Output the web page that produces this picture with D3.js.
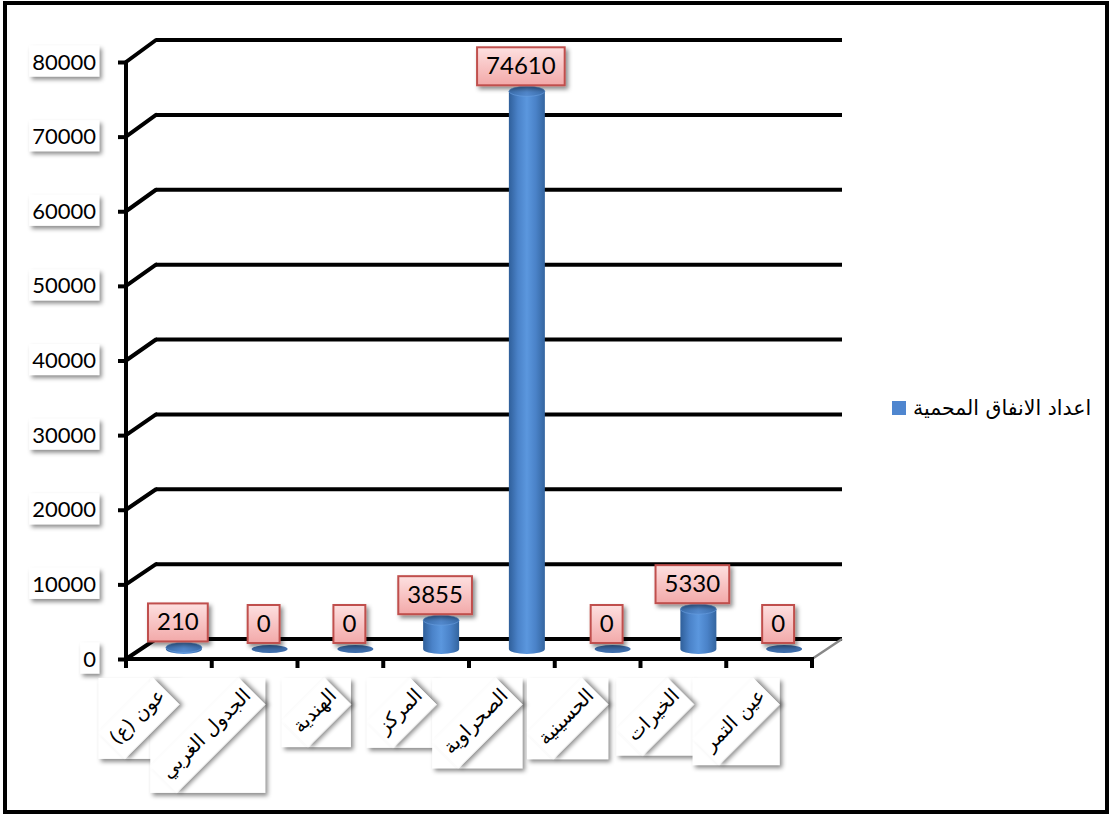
<!DOCTYPE html>
<html>
<head>
<meta charset="utf-8">
<script src="https://cdn.jsdelivr.net/npm/d3@7"></script>
<style>
  html, body { margin: 0; padding: 0; background: #fff; }
  svg { display: block; }
</style>
</head>
<body>
<svg id="chart" width="1111" height="816"></svg>
<script>
// Protected tunnels per district
const categories = ["عون (ع)", "الجدول الغربي", "الهندية", "المركز", "الصحراوية", "الحسينية", "الخيرات", "عين التمر"];
const values = [210, 0, 0, 3855, 74610, 0, 5330, 0];
const yTickValues = [0, 10000, 20000, 30000, 40000, 50000, 60000, 70000, 80000];
const seriesName = "اعداد الانفاق المحمية";

const svg = d3.select("#chart");

const numFont = "Lato, 'Open Sans', sans-serif";
const arFont = "'DejaVu Sans', 'Noto Sans', sans-serif";

// defs: shadow + gradients
const defs = svg.append("defs");
const sh = defs.append("filter").attr("id", "shadow").attr("x", "-30%").attr("y", "-30%").attr("width", "170%").attr("height", "170%");
sh.append("feDropShadow").attr("dx", 2.5).attr("dy", 3).attr("stdDeviation", 2).attr("flood-color", "#000").attr("flood-opacity", 0.45);

const bodyGrad = defs.append("linearGradient").attr("id", "cylBody").attr("x1", 0).attr("x2", 1).attr("y1", 0).attr("y2", 0);
[[0, "#2f5f9a"], [0.25, "#4a82c8"], [0.5, "#5b97de"], [0.75, "#4a82c8"], [1, "#34659f"]]
  .forEach(([o, c]) => bodyGrad.append("stop").attr("offset", o).attr("stop-color", c));
const capGrad = defs.append("linearGradient").attr("id", "cylTop").attr("x1", 0).attr("x2", 1).attr("y1", 0).attr("y2", 0);
[[0, "#3c6fae"], [0.5, "#5288cc"], [1, "#3c6fae"]]
  .forEach(([o, c]) => capGrad.append("stop").attr("offset", o).attr("stop-color", c));
const pinkGrad = defs.append("linearGradient").attr("id", "pinkBox").attr("x1", 0).attr("x2", 0).attr("y1", 0).attr("y2", 1);
[[0, "#fde0e0"], [0.5, "#f8c4c4"], [1, "#f2a9a9"]]
  .forEach(([o, c]) => pinkGrad.append("stop").attr("offset", o).attr("stop-color", c));

// outer frame
svg.append("rect").attr("x", 5).attr("y", 3).attr("width", 1102).attr("height", 809)
  .attr("fill", "none").attr("stroke", "#000").attr("stroke-width", 4);

// scales: front plane, back wall, and mid-depth for the cylinders
const x = d3.scaleBand().domain(categories).range([126, 812]).padding(0);
const depthX = 30;
const yFront = d3.scaleLinear().domain([0, 80000]).range([659, 62]);
const yBack = d3.scaleLinear().domain([0, 80000]).range([639, 40]);
const yMid = d3.scaleLinear().domain([0, 80000]).range([649, 51]);
const backRight = 842;

// back gridlines with side diagonals
const grid = svg.append("g");
yTickValues.forEach(v => {
  grid.append("line").attr("x1", 126 + depthX).attr("x2", backRight)
    .attr("y1", yBack(v)).attr("y2", yBack(v))
    .attr("stroke", "#000").attr("stroke-width", 4);
  grid.append("line").attr("x1", 126).attr("y1", yFront(v))
    .attr("x2", 126 + depthX).attr("y2", yBack(v))
    .attr("stroke", "#000").attr("stroke-width", 4).attr("stroke-linecap", "round");
});
// floor: right side edge
grid.append("line").attr("x1", 812).attr("y1", yFront(0)).attr("x2", backRight).attr("y2", yBack(0))
  .attr("stroke", "#888").attr("stroke-width", 2.5);

// y axis
const yAxis = svg.append("g").attr("transform", "translate(126,0)")
  .call(d3.axisLeft(yFront).tickValues(yTickValues).tickSize(8).tickSizeOuter(0).tickPadding(22).tickFormat(d3.format("d")));
yAxis.select(".domain").attr("stroke", "#000").attr("stroke-width", 4)
  .attr("d", `M0,${yFront(80000)}V${yFront(0) + 9}`);
yAxis.selectAll(".tick line").attr("stroke", "#000").attr("stroke-width", 4);
yAxis.selectAll(".tick text").attr("font-family", numFont).attr("font-size", 22).attr("fill", "#000");
yAxis.selectAll(".tick").each(function () {
  const t = d3.select(this).select("text");
  const bb = t.node().getBBox();
  d3.select(this).insert("rect", "text")
    .attr("x", bb.x - 3).attr("y", bb.y - 2).attr("width", bb.width + 6).attr("height", bb.height + 4)
    .attr("fill", "#fff").attr("filter", "url(#shadow)");
});

// x axis: floor front edge + category boundary ticks
const xAxisG = svg.append("g");
xAxisG.append("line").attr("x1", 124).attr("x2", 814).attr("y1", yFront(0)).attr("y2", yFront(0))
  .attr("stroke", "#000").attr("stroke-width", 4);
const bounds = categories.map(c => x(c)).concat([x.range()[1]]);
xAxisG.selectAll("line.tk").data(bounds).join("line").attr("class", "tk")
  .attr("x1", d => d).attr("x2", d => d).attr("y1", yFront(0)).attr("y2", yFront(0) + 9)
  .attr("stroke", "#000").attr("stroke-width", 4);

// cylinders
const rx = 18, ryTop = 5;
const cxOf = c => x(c) + x.bandwidth() / 2 + depthX / 2;
const bars = svg.append("g");
categories.forEach((c, i) => {
  const v = values[i];
  const cx = cxOf(c);
  const yb = yMid(0), yt = yMid(v);
  if (v <= 0) {
    bars.append("ellipse").attr("cx", cx).attr("cy", yb).attr("rx", rx).attr("ry", 4)
      .attr("fill", "#3e6eac");
    return;
  }
  bars.append("path")
    .attr("d", `M${cx - rx},${yt} L${cx - rx},${yb} A${rx},${ryTop} 0 0 0 ${cx + rx},${yb} L${cx + rx},${yt} Z`)
    .attr("fill", "url(#cylBody)");
  bars.append("ellipse").attr("cx", cx).attr("cy", yt).attr("rx", rx).attr("ry", ryTop)
    .attr("fill", "url(#cylTop)").attr("stroke", "#6a9fe0").attr("stroke-width", 0.6);
});

// data labels
const labels = svg.append("g");
categories.forEach((c, i) => {
  const v = values[i];
  const cx = cxOf(c) - 6;
  const bottom = yMid(v) - 6;
  const g = labels.append("g");
  const t = g.append("text").attr("font-family", numFont).attr("font-size", 24).attr("fill", "#000")
    .attr("text-anchor", "middle").attr("x", cx).attr("y", bottom - 11).text(d3.format("d")(v));
  const w = t.node().getComputedTextLength() + 18;
  const h = 38;
  g.insert("rect", "text").attr("x", cx - w / 2).attr("y", bottom - h).attr("width", w).attr("height", h)
    .attr("fill", "url(#pinkBox)").attr("stroke", "#c0504d").attr("stroke-width", 2)
    .attr("filter", "url(#shadow)");
});

// rotated category labels in white boxes
const catG = svg.append("g");
const fs = 19.5, pad = 4, asc = fs * 0.95, desc = fs * 0.55;
const S2 = Math.SQRT2;
const outerBoxes = catG.append("g"), innerBoxes = catG.append("g");
categories.forEach((c, i) => {
  const tmp = innerBoxes.append("text").attr("font-family", arFont).attr("font-size", fs).text(c);
  const L = tmp.node().getComputedTextLength();
  tmp.remove();
  const uMin = -L - pad, uMax = pad, vMin = -asc - pad, vMax = desc + pad;
  const bTop = (vMin - uMax) / S2, bRight = (uMax + vMax) / S2;
  const bLeft = (uMin + vMin) / S2, bBot = (vMax - uMin) / S2;
  const ax = x(c) + x.bandwidth() / 2 + 10.5 - bRight;
  const ay = 678 - bTop;
  outerBoxes.append("rect").attr("x", ax + bLeft).attr("y", 678).attr("width", bRight - bLeft).attr("height", bBot - bTop)
    .attr("fill", "#fff").attr("filter", "url(#shadow)");
  const rg = innerBoxes.append("g").attr("transform", `translate(${ax},${ay}) rotate(-45)`);
  rg.append("rect").attr("x", uMin).attr("y", vMin).attr("width", uMax - uMin).attr("height", vMax - vMin)
    .attr("fill", "#fff").attr("filter", "url(#shadow)");
  rg.append("text").attr("font-family", arFont).attr("font-size", fs).attr("fill", "#000")
    .attr("text-anchor", "end").attr("x", 0).attr("y", 0).text(c);
});

// legend
const leg = svg.append("g");
leg.append("rect").attr("x", 892).attr("y", 401).attr("width", 14).attr("height", 14).attr("fill", "#4f86cf");
leg.append("text").attr("x", 913).attr("y", 415).attr("font-family", arFont).attr("font-size", 20.5)
  .attr("fill", "#000").attr("text-anchor", "start").text(seriesName);
</script>
</body>
</html>
